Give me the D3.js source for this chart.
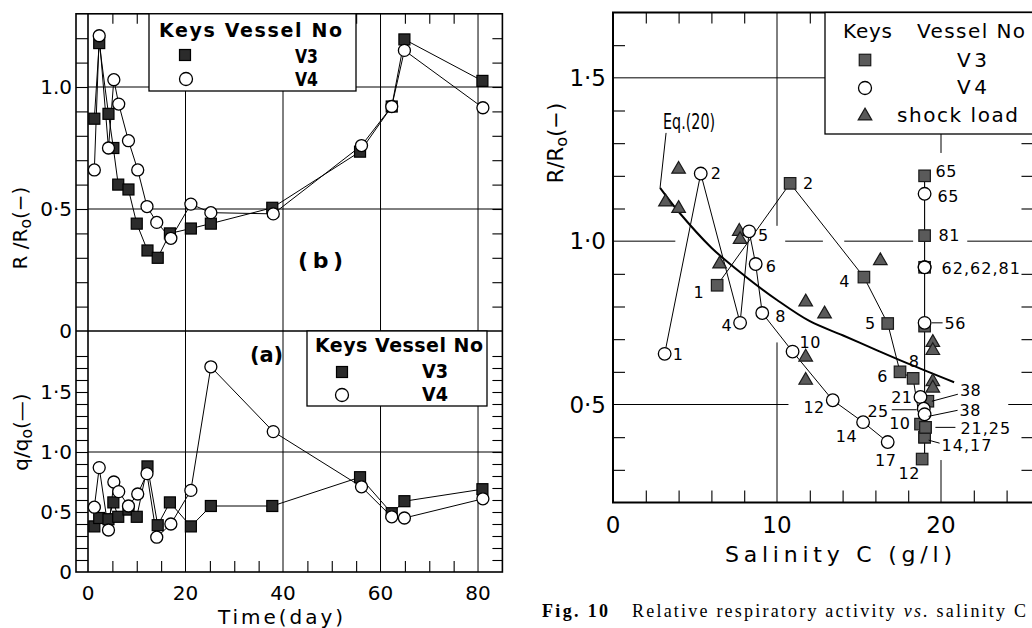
<!DOCTYPE html>
<html>
<head>
<meta charset="utf-8">
<script src="https://cdn.jsdelivr.net/npm/d3@7"></script>
<style>
  body { margin: 0; background: #fff; }
  svg { display: block; }
  text { font-family: "DejaVu Sans", sans-serif; fill: #000; }
  .serif { font-family: "Liberation Serif", serif; }
</style>
</head>
<body>
<svg id="fig" width="1032" height="628"></svg>
<script>
// ---------------------------------------------------------------------------
// Values.
// Left figure: time course of R/Ro (panel b) and q/qo (panel a), vessels V3, V4
var daysV3 = [1.3, 2.3, 4.2, 5.2, 6.2, 8.3, 10, 12.2, 14.3, 16.8, 21.1, 25.2, 37.8, 55.8, 62.3, 64.9, 80.9]
var rV3    = [0.87, 1.18, 0.89, 0.75, 0.60, 0.58, 0.44, 0.33, 0.30, 0.40, 0.42, 0.44, 0.505, 0.735, 0.92, 1.195, 1.025]
var qV3    = [0.38, 0.45, 0.44, 0.58, 0.46, 0.52, 0.46, 0.88, 0.39, 0.58, 0.38, 0.55, 0.55, 0.79, 0.49, 0.59, 0.69]

var daysV4 = [1.3, 2.3, 4.2, 5.3, 6.3, 8.3, 10.2, 12.1, 14.1, 17, 21.1, 25.2, 38, 56.1, 62.3, 64.9, 81]
var rV4    = [0.66, 1.21, 0.75, 1.03, 0.93, 0.78, 0.66, 0.51, 0.445, 0.38, 0.52, 0.485, 0.48, 0.76, 0.92, 1.15, 0.915]
var qV4    = [0.54, 0.87, 0.35, 0.75, 0.67, 0.55, 0.65, 0.82, 0.29, 0.40, 0.68, 1.71, 1.17, 0.71, 0.46, 0.45, 0.61]

// Right figure: R/Ro against salinity C (g/l); the labels are the culture day
var dayLabels = ["1", "2", "4", "5", "6", "8", "10", "12", "14", "17", "21", "25", "38", "56", "62", "65", "81"]
var salV3  = [6.35, 10.8, 15.3, 16.75, 17.5, 18.3, 18.75, 18.85, 19.0, 19.0, 19.05, 19.05, 19.2, 19.0, 19.0, 19.0, 19.0]
var rSalV3 = [0.865, 1.177, 0.89, 0.748, 0.60, 0.58, 0.44, 0.333, 0.40, 0.40, 0.43, 0.43, 0.51, 0.74, 0.92, 1.2, 1.017]
var salV4  = [3.15, 5.35, 7.75, 8.3, 8.7, 9.1, 10.95, 13.4, 15.25, 16.75, 18.75, 18.95, 19.0, 19.0, 19.0, 19.0, 19.0]
var rSalV4 = [0.655, 1.207, 0.75, 1.03, 0.93, 0.78, 0.662, 0.513, 0.446, 0.385, 0.523, 0.487, 0.47, 0.75, 0.92, 1.145, 0.92]

// shock load runs
var salShock = [3.2, 4.0, 4.0, 6.5, 7.7, 7.75, 11.75, 12.9, 16.3, 11.75, 11.75, 19.5, 19.5, 19.5, 19.5]
var rShock   = [1.12, 1.10, 1.22, 0.93, 1.03, 1.005, 0.814, 0.777, 0.94, 0.645, 0.574, 0.69, 0.665, 0.57, 0.55]

// Eq.(20)
var eqC = [2.87, 4, 6, 8, 10, 12, 14, 16, 18, 20.8]
var eqR = [1.163, 1.09, 0.98, 0.895, 0.82, 0.755, 0.712, 0.668, 0.625, 0.568]

var dayTicks = [0, 20, 40, 60, 80]
var salTicks = [0, 10, 20]

// ---------------------------------------------------------------------------
var svg = d3.select("#fig")
svg.append("rect").attr("width", 1032).attr("height", 628).attr("fill", "#fff")

function tenths(a, b, skip) {
  return d3.range(a, b + 1).filter(i => !skip || skip.indexOf(i) < 0).map(i => i / 10)
}

function bareAxis(g, axis) {
  g.call(axis)
  g.select(".domain").remove()
  g.selectAll("line").attr("stroke", "#000").attr("stroke-width", 1.1)
  return g
}

function drawSquares(g, pts, size, fill, stroke) {
  g.selectAll(null).data(pts).enter().append("rect")
    .attr("x", d => d[0] - size / 2).attr("y", d => d[1] - size / 2)
    .attr("width", size).attr("height", size)
    .attr("fill", fill).attr("stroke", stroke).attr("stroke-width", 1.2)
}

function drawCircles(g, pts, r) {
  g.selectAll(null).data(pts).enter().append("circle")
    .attr("cx", d => d[0]).attr("cy", d => d[1]).attr("r", r)
    .attr("fill", "#fff").attr("stroke", "#000").attr("stroke-width", 1.3)
}

function drawTriangles(g, pts) {
  g.selectAll(null).data(pts).enter().append("path")
    .attr("transform", d => "translate(" + d[0] + "," + d[1] + ")")
    .attr("d", d3.symbol(d3.symbolTriangle, 80))
    .attr("fill", "#5a5a5a").attr("stroke", "#1a1a1a").attr("stroke-width", 1.2)
}

// ============================ LEFT FIGURE ==================================
var xDay = d3.scaleLinear().domain([0, 85]).range([88, 502.4])
var yB = d3.scaleLinear().domain([0, 1.3]).range([331, 13.8])
var yA = d3.scaleLinear().domain([0, 2]).range([572, 332])

var left = svg.append("g").attr("id", "left")

// grid lines
left.selectAll(null).data([[yB, 0.5], [yB, 1], [yA, 1]]).enter().append("line")
  .attr("x1", 88).attr("x2", xDay(85))
  .attr("y1", d => d[0](d[1])).attr("y2", d => d[0](d[1]))
  .attr("stroke", "#000").attr("stroke-width", 1)
left.selectAll(null).data([20, 40, 60, 80]).enter().append("line")
  .attr("x1", d => xDay(d)).attr("x2", d => xDay(d))
  .attr("y1", yB(1.3)).attr("y2", yA(0))
  .attr("stroke", "#000").attr("stroke-width", 1)

// tick rulers
var fives = d3.range(5, 85, 5).filter(d => d % 20)
bareAxis(left.append("g").attr("transform", "translate(88,0)"),
  d3.axisLeft(yB).tickValues(tenths(1, 12)).tickSize(12).tickFormat(""))
bareAxis(left.append("g").attr("transform", "translate(" + xDay(85) + ",0)"),
  d3.axisLeft(yB).tickValues(tenths(1, 12)).tickSize(10).tickFormat(""))
bareAxis(left.append("g").attr("transform", "translate(88,0)"),
  d3.axisLeft(yA).tickValues(tenths(1, 18)).tickSize(12).tickFormat(""))
bareAxis(left.append("g").attr("transform", "translate(" + xDay(85) + ",0)"),
  d3.axisLeft(yA).tickValues(tenths(1, 18)).tickSize(10).tickFormat(""))
bareAxis(left.append("g").attr("transform", "translate(0," + yB(1.3) + ")"),
  d3.axisBottom(xDay).tickValues(fives).tickSize(10).tickFormat(""))
bareAxis(left.append("g").attr("transform", "translate(0," + yA(0) + ")"),
  d3.axisTop(xDay).tickValues(fives).tickSize(11).tickFormat(""))

// frame
left.append("rect").attr("x", 76).attr("y", yB(1.3))
  .attr("width", xDay(85) - 76).attr("height", yA(0) - yB(1.3))
  .attr("fill", "none").attr("stroke", "#000").attr("stroke-width", 1.6)
left.append("line").attr("x1", 88).attr("x2", 88).attr("y1", yB(1.3)).attr("y2", yA(0))
  .attr("stroke", "#000").attr("stroke-width", 1.6)
left.append("line").attr("x1", 76).attr("x2", xDay(85)).attr("y1", yB(0)).attr("y2", yB(0))
  .attr("stroke", "#000").attr("stroke-width", 1.6)

// data
var lineB = d3.line().x(d => xDay(d[0])).y(d => yB(d[1]))
var lineA = d3.line().x(d => xDay(d[0])).y(d => yA(d[1]))
var series = [
  [daysV3, rV3, qV3],
  [daysV4, rV4, qV4]
]
series.forEach(s => {
  left.append("path").datum(d3.zip(s[0], s[1])).attr("d", lineB)
    .attr("fill", "none").attr("stroke", "#000").attr("stroke-width", 1)
  left.append("path").datum(d3.zip(s[0], s[2])).attr("d", lineA)
    .attr("fill", "none").attr("stroke", "#000").attr("stroke-width", 1)
})
drawSquares(left, daysV3.map((d, i) => [xDay(d), yB(rV3[i])]), 11, "#2b2b2b", "#000")
drawSquares(left, daysV3.map((d, i) => [xDay(d), yA(qV3[i])]), 11, "#2b2b2b", "#000")
drawCircles(left, daysV4.map((d, i) => [xDay(d), yB(rV4[i])]), 6)
drawCircles(left, daysV4.map((d, i) => [xDay(d), yA(qV4[i])]), 6)

// tick labels
var yLabB = [[0, "0"], [0.5, "0·5"], [1, "1.0"]]
var yLabA = [[0, "0"], [0.5, "0·5"], [1, "1·0"], [1.5, "1·5"]]
left.selectAll(null).data(yLabB).enter().append("text")
  .attr("x", 72).attr("y", d => yB(d[0])).attr("dy", "0.36em")
  .attr("text-anchor", "end").attr("font-size", 20).text(d => d[1])
left.selectAll(null).data(yLabA).enter().append("text")
  .attr("x", 72).attr("y", d => yA(d[0])).attr("dy", "0.36em")
  .attr("text-anchor", "end").attr("font-size", 20).text(d => d[1])
left.selectAll(null).data(dayTicks).enter().append("text")
  .attr("x", d => xDay(d)).attr("y", 600)
  .attr("text-anchor", "middle").attr("font-size", 20).text(d => d)

left.append("text").attr("x", 218).attr("y", 624).attr("font-size", 20)
  .attr("textLength", 125).attr("lengthAdjust", "spacing").text("Time(day)")

function yTitle(g, x, y, main, sub, tail, size) {
  var t = g.append("text").attr("transform", "translate(" + x + "," + y + ") rotate(-90)")
    .attr("text-anchor", "middle").attr("font-size", size)
  t.append("tspan").text(main)
  t.append("tspan").attr("font-size", size * 0.78).attr("dy", 4).text(sub)
  t.append("tspan").attr("dy", -4).text(tail)
}
yTitle(left, 27, 228, "R /R", "o", "(−)", 20)
yTitle(left, 28, 432, "q/q", "o", "(—)", 20)

left.append("text").attr("x", 298).attr("y", 268).attr("font-size", 22)
  .attr("font-weight", "bold").attr("textLength", 45).text("(b)")
left.append("text").attr("x", 250).attr("y", 362).attr("font-size", 21)
  .attr("font-weight", "bold").attr("textLength", 33).text("(a)")

// legends
function leftLegend(x0, y0, x1, y1, head, headLen, sq, ci, vx, v3y, v4y, vLen) {
  left.append("rect").attr("x", x0).attr("y", y0).attr("width", x1 - x0).attr("height", y1 - y0)
    .attr("fill", "#fff").attr("stroke", "#000").attr("stroke-width", 1.3)
  left.append("text").attr("x", head[0]).attr("y", head[1]).attr("font-size", 19)
    .attr("font-weight", "bold").attr("textLength", headLen).attr("lengthAdjust", "spacing")
    .text("Keys Vessel No")
  drawSquares(left, [sq], 11, "#2b2b2b", "#000")
  drawCircles(left, [ci], 6.5)
  left.append("text").attr("x", vx).attr("y", v3y).attr("font-size", 19).attr("font-weight", "bold")
    .attr("textLength", vLen).attr("lengthAdjust", "spacingAndGlyphs").text("V3")
  left.append("text").attr("x", vx).attr("y", v4y).attr("font-size", 19).attr("font-weight", "bold")
    .attr("textLength", vLen).attr("lengthAdjust", "spacingAndGlyphs").text("V4")
}
leftLegend(149, yB(1.3), 356, 91, [159, 37], 183, [185, 55], [186, 79], 295, 63, 86, 23)
leftLegend(307, 331, 487, 406, [315, 352], 168, [342, 372], [342, 395], 422, 378, 401, 26)

// ============================ RIGHT FIGURE =================================
var xC = d3.scaleLinear().domain([0, 25.7]).range([613, 613 + 25.7 * 16.4])
var yR = d3.scaleLinear().domain([0.2, 1.7]).range([502.5, 12.5])

var right = svg.append("g").attr("id", "right")

// grid, broken where the original drawing leaves gaps
var gridSegs = [
  ["h", 1.5, 0, 25.7], ["h", 1.0, 0, 3.8], ["h", 1.0, 10.5, 12.8], ["h", 1.0, 14.1, 18.3],
  ["h", 1.0, 21.6, 25.7], ["h", 0.5, 0, 10.7], ["h", 0.5, 24.1, 25.7],
  ["v", 10, 1.047, 1.7], ["v", 10, 0.2, 0.69], ["v", 20, 0.2, 0.33], ["v", 20, 1.27, 1.7]
]
right.selectAll(null).data(gridSegs).enter().append("line")
  .attr("x1", d => d[0] == "h" ? xC(d[2]) : xC(d[1]))
  .attr("x2", d => d[0] == "h" ? xC(d[3]) : xC(d[1]))
  .attr("y1", d => d[0] == "h" ? yR(d[1]) : yR(d[2]))
  .attr("y2", d => d[0] == "h" ? yR(d[1]) : yR(d[3]))
  .attr("stroke", "#000").attr("stroke-width", 1)

var evens = d3.range(2, 26, 2).filter(d => d % 10)
var rTicks = tenths(3, 16, [5, 10, 15])
bareAxis(right.append("g").attr("transform", "translate(" + xC(0) + ",0)"),
  d3.axisRight(yR).tickValues(rTicks).tickSize(12).tickFormat(""))
bareAxis(right.append("g").attr("transform", "translate(" + xC(25.7) + ",0)"),
  d3.axisLeft(yR).tickValues(rTicks).tickSize(13).tickFormat(""))
bareAxis(right.append("g").attr("transform", "translate(0," + yR(0.2) + ")"),
  d3.axisTop(xC).tickValues(evens).tickSize(12).tickFormat(""))
bareAxis(right.append("g").attr("transform", "translate(0," + yR(1.7) + ")"),
  d3.axisBottom(xC).tickValues(evens).tickSize(11).tickFormat(""))

right.append("path")
  .attr("d", "M" + xC(25.7) + "," + yR(1.7) + "H" + xC(0) + "V" + yR(0.2) + "H" + xC(25.7))
  .attr("fill", "none").attr("stroke", "#000").attr("stroke-width", 2)

// Eq.(20) curve and its label
var eqLine = d3.line().x(d => xC(d[0])).y(d => yR(d[1])).curve(d3.curveCatmullRom)
right.append("path").datum(d3.zip(eqC, eqR)).attr("d", eqLine)
  .attr("fill", "none").attr("stroke", "#000").attr("stroke-width", 2)
var eq0 = [xC(eqC[0]), yR(eqR[0])]
right.append("line").attr("x1", eq0[0]).attr("y1", eq0[1])
  .attr("x2", eq0[0] + 6).attr("y2", eq0[1] - 55).attr("stroke", "#000").attr("stroke-width", 1)
right.append("text").attr("x", eq0[0] + 3).attr("y", eq0[1] - 59).attr("font-size", 21)
  .attr("font-family", "Liberation Sans, sans-serif")
  .attr("textLength", 52).attr("lengthAdjust", "spacingAndGlyphs").text("Eq.(20)")

// connecting lines: early days per vessel, then the common run at C ~ 19 g/l
var ptV3 = dayLabels.map((d, i) => [xC(salV3[i]), yR(rSalV3[i])])
var ptV4 = dayLabels.map((d, i) => [xC(salV4[i]), yR(rSalV4[i])])
var poly = d3.line()
right.append("path").datum(ptV3.slice(0, 7)).attr("d", poly)
  .attr("fill", "none").attr("stroke", "#000").attr("stroke-width", 1)
right.append("path").datum(ptV4.slice(0, 10)).attr("d", poly)
  .attr("fill", "none").attr("stroke", "#000").attr("stroke-width", 1)
var cluster = salV3.map((c, i) => [c, rSalV3[i]]).concat(salV4.map((c, i) => [c, rSalV4[i]]))
  .filter(d => d[0] > 18.5)
var cx = xC(d3.median(cluster, d => d[0]))
right.append("line").attr("x1", cx).attr("x2", cx)
  .attr("y1", yR(d3.min(cluster, d => d[1]))).attr("y2", yR(d3.max(cluster, d => d[1])))
  .attr("stroke", "#000").attr("stroke-width", 1.1)

drawTriangles(right, salShock.map((c, i) => [xC(c), yR(rShock[i])]))
drawSquares(right, ptV3, 11.5, "#5a5a5a", "#1a1a1a")
drawCircles(right, ptV4, 6.3)

// day labels: [vessel, day, dx, dy, anchor, leader offsets, text]
var labelLayout = [
  ["V4", "1", 8, 0, "start"], ["V4", "2", 10, 0, "start"], ["V4", "4", -8, 2, "end"],
  ["V4", "5", 9, 4, "start"], ["V4", "6", 10, 2, "start"], ["V4", "8", 13, 3, "start"],
  ["V4", "10", 7, -9, "start"], ["V4", "12", -8, 7, "end"], ["V4", "14", -6, 14, "end"],
  ["V4", "17", -2, 18, "middle"], ["V4", "21", -8, 0, "end"],
  ["V4", "25", -35, 2, "end", [-32, 1, -7, 1]],
  ["V4", "38", 35, -4, "start", [33, -4, 4, 2]],
  ["V4", "56", 20, 0, "start", [7, 0, 18, 0]],
  ["V4", "65", 13, 2, "start"],
  ["V4", "62", 17, 1, "start", null, "62,62,81"],
  ["V3", "1", -13, 7, "end"], ["V3", "2", 13, 0, "start"], ["V3", "4", -14, 4, "end"],
  ["V3", "5", -12, 0, "end"], ["V3", "6", -12, 4, "end"], ["V3", "8", 1, -17, "middle"],
  ["V3", "10", -10, -1, "end"], ["V3", "12", -13, 14, "middle"],
  ["V3", "14", 17, 8, "start", [15, 6, 4, 3], "14,17"],
  ["V3", "21", 35, 1, "start", [30, 0, 10, 0], "21,25"],
  ["V3", "38", 32, -11, "start", [30, -7, 4, 0]],
  ["V3", "65", 11, -5, "start"], ["V3", "81", 14, 0, "start"]
]
labelLayout.forEach(l => {
  var p = (l[0] == "V3" ? ptV3 : ptV4)[dayLabels.indexOf(l[1])]
  if (l[5]) {
    right.append("line").attr("x1", p[0] + l[5][0]).attr("y1", p[1] + l[5][1])
      .attr("x2", p[0] + l[5][2]).attr("y2", p[1] + l[5][3])
      .attr("stroke", "#000").attr("stroke-width", 1)
  }
  right.append("text").attr("x", p[0] + l[2]).attr("y", p[1] + l[3]).attr("dy", "0.36em")
    .attr("text-anchor", l[4]).attr("font-size", 16).attr("letter-spacing", l[6] ? 1 : 0.5)
    .text(l[6] || l[1])
})

// axis labels
right.selectAll(null).data([[0.5, "0·5"], [1, "1·0"], [1.5, "1·5"]]).enter().append("text")
  .attr("x", 606).attr("y", d => yR(d[0])).attr("dy", "0.36em")
  .attr("text-anchor", "end").attr("font-size", 23).text(d => d[1])
right.selectAll(null).data(salTicks).enter().append("text")
  .attr("x", d => xC(d)).attr("y", 533)
  .attr("text-anchor", "middle").attr("font-size", 23).text(d => d)
right.append("text").attr("x", 725).attr("y", 562).attr("font-size", 22)
  .attr("textLength", 227).attr("lengthAdjust", "spacing").text("Salinity  C  (g/l)")
yTitle(right, 563, 143, "R/R", "o", "(−)", 21)

// legend
right.append("rect").attr("x", 825).attr("y", yR(1.7)).attr("width", 220).attr("height", 134 - yR(1.7))
  .attr("fill", "#fff").attr("stroke", "#000").attr("stroke-width", 1.3)
right.append("text").attr("x", 843).attr("y", 38).attr("font-size", 20)
  .attr("textLength", 49).text("Keys")
right.append("text").attr("x", 917).attr("y", 38).attr("font-size", 20)
  .attr("textLength", 108).attr("lengthAdjust", "spacing").text("Vessel No")
drawSquares(right, [[865, 60]], 11.5, "#5a5a5a", "#1a1a1a")
drawCircles(right, [[865, 88]], 6.5)
drawTriangles(right, [[865, 116]])
right.append("text").attr("x", 957).attr("y", 67).attr("font-size", 20)
  .attr("textLength", 30).attr("lengthAdjust", "spacing").text("V3")
right.append("text").attr("x", 957).attr("y", 94).attr("font-size", 20)
  .attr("textLength", 30).attr("lengthAdjust", "spacing").text("V4")
right.append("text").attr("x", 897).attr("y", 122).attr("font-size", 20)
  .attr("textLength", 121).attr("lengthAdjust", "spacing").text("shock load")

// caption
right.append("text").attr("class", "serif").attr("x", 542).attr("y", 617)
  .attr("font-size", 18).attr("font-weight", "bold")
  .attr("textLength", 66).attr("lengthAdjust", "spacing").text("Fig. 10")
var cap = right.append("text").attr("class", "serif").attr("x", 632).attr("y", 617)
  .attr("font-size", 18).attr("textLength", 394).attr("lengthAdjust", "spacing")
cap.append("tspan").text("Relative respiratory activity ")
cap.append("tspan").attr("font-style", "italic").text("vs.")
cap.append("tspan").text(" salinity C")
</script>
</body>
</html>
